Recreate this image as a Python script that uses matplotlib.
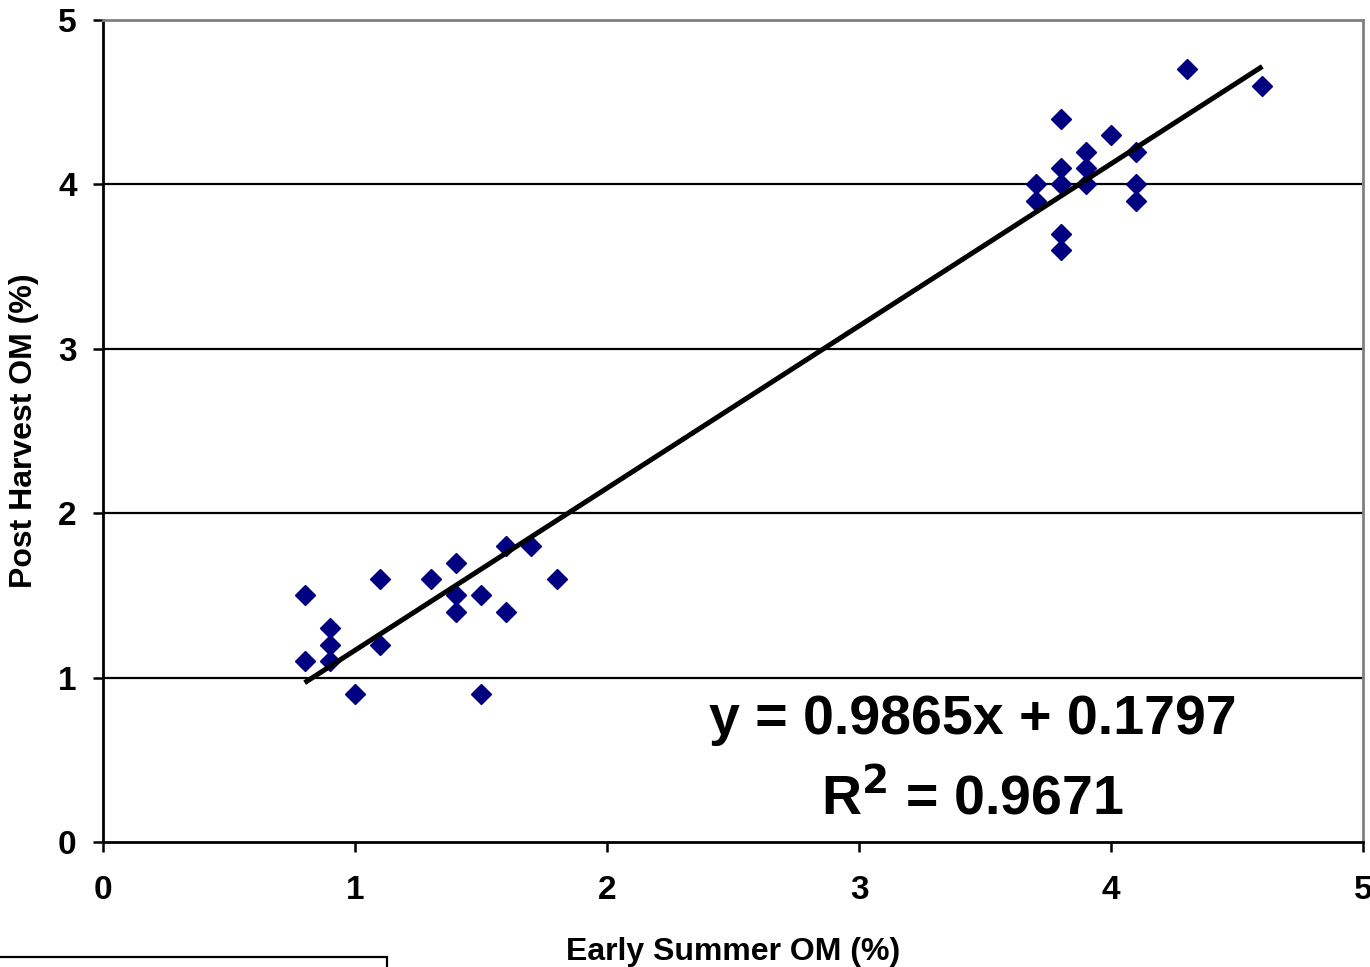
import matplotlib.pyplot as plt
from matplotlib.patches import Rectangle

plt.rcParams["font.family"] = ["Liberation Sans", "DejaVu Sans"]
plt.rcParams["font.weight"] = "bold"

# Early summer vs post harvest organic matter (%)
early_om = [0.8, 0.8, 0.9, 0.9, 0.9, 1.0, 1.1, 1.1, 1.3, 1.4, 1.4, 1.4, 1.5, 1.5,
            1.6, 1.6, 1.7, 1.8,
            3.7, 3.7, 3.8, 3.8, 3.8, 3.8, 3.8, 3.9, 3.9, 3.9, 4.0, 4.1, 4.1, 4.1,
            4.3, 4.6]
post_om = [1.5, 1.1, 1.3, 1.2, 1.1, 0.9, 1.6, 1.2, 1.6, 1.7, 1.5, 1.4, 1.5, 0.9,
           1.8, 1.4, 1.8, 1.6,
           4.0, 3.9, 4.4, 4.1, 4.0, 3.7, 3.6, 4.2, 4.1, 4.0, 4.3, 4.2, 4.0, 3.9,
           4.7, 4.6]

slope = 0.9865
intercept = 0.1797
r_squared = 0.9671

fig = plt.figure(figsize=(13.7, 9.67), dpi=100)
ax = fig.add_axes([0.0752, 0.1293, 0.9198, 0.85])

for y in [1, 2, 3, 4]:
    ax.axhline(y, color="black", linewidth=1.6, zorder=1)

ax.plot(early_om, post_om, linestyle="none", marker="D", markersize=9.7,
        color="#000080", zorder=3)

x_fit = [min(early_om), max(early_om)]
y_fit = [slope * x + intercept for x in x_fit]
ax.plot(x_fit, y_fit, color="black", linewidth=3.6, solid_capstyle="butt", zorder=4)

ax.set_xlim(0, 5)
ax.set_ylim(0, 5)
ax.set_xticks([0, 1, 2, 3, 4, 5])
ax.set_yticks([0, 1, 2, 3, 4, 5])
ax.tick_params(direction="out", length=7, width=1.8, labelsize=24, color="black")
ax.tick_params(axis="x", pad=17)
ax.tick_params(axis="y", pad=12)

for side in ["left", "bottom"]:
    ax.spines[side].set_color("black")
    ax.spines[side].set_linewidth(2)
for side in ["top", "right"]:
    ax.spines[side].set_color("#808080")
    ax.spines[side].set_linewidth(2)

ax.set_xlabel("Early Summer OM (%)", fontsize=23, fontweight="bold", labelpad=22)
ax.set_ylabel("Post Harvest OM (%)", fontsize=23, fontweight="bold", labelpad=14)

ax.text(3.45, 0.74, f"y = {slope:.4f}x + {intercept:.4f}", fontsize=40,
        fontweight="bold", ha="center", va="center", zorder=5)
ax.text(3.45, 0.26, f"R$^{{\\mathbf{{2}}}}$ = {r_squared:.4f}", fontsize=40,
        fontweight="bold", ha="center", va="center", zorder=5)

# partly visible legend frame at the lower left
fig.patches.append(Rectangle((-0.01, -0.05), 0.2925, 0.0603, transform=fig.transFigure,
                             fill=False, edgecolor="black", linewidth=1.6))

fig.savefig("out.png", dpi=100)
